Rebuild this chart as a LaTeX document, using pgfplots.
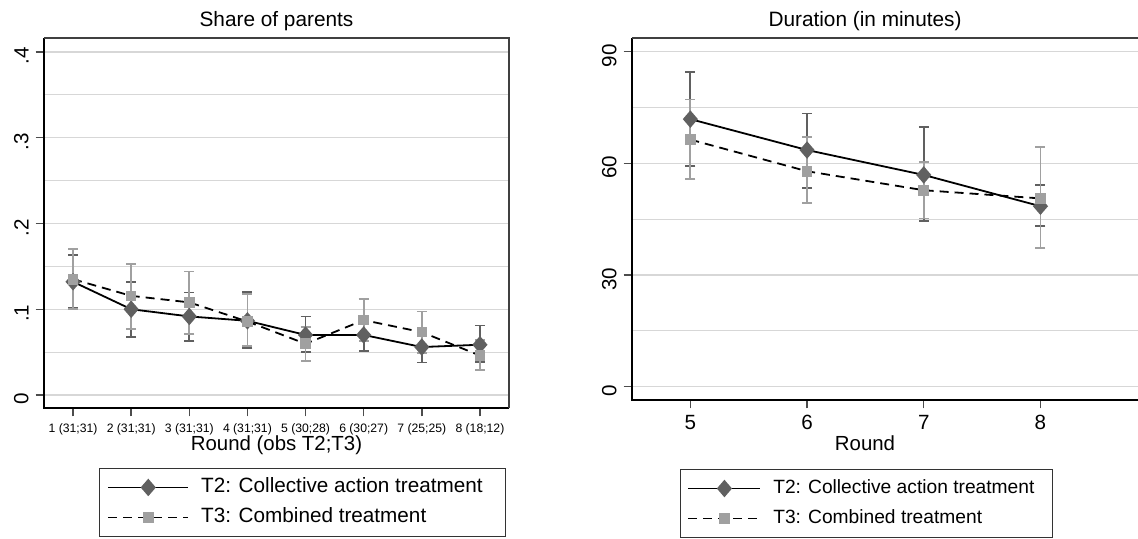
\documentclass[border=0pt]{standalone}
\usepackage{fontspec}
\setmainfont{Liberation Sans}
\usepackage{pgfplots}
\usepackage{pgfplotstable}
\pgfplotsset{compat=1.18}

\definecolor{dk}{RGB}{96,96,96}
\definecolor{lt}{RGB}{160,160,160}
\definecolor{grd}{RGB}{215,215,215}

% share of parents: mean and CI half-widths (plus / minus)
\pgfplotstableread{
x y ep em
1 0.132 0.031 0.031
2 0.100 0.032 0.0325
3 0.0916 0.028 0.029
4 0.0865 0.0335 0.0315
5 0.070 0.0216 0.020
6 0.070 0.020 0.019
7 0.0559 0.017 0.018
8 0.0586 0.0224 0.0206
}\shareT
\pgfplotstableread{
x y ep em
1 0.135 0.035 0.035
2 0.1156 0.037 0.039
3 0.108 0.036 0.037
4 0.0857 0.032 0.029
5 0.0597 0.020 0.020
6 0.0873 0.025 0.024
7 0.0733 0.024 0.024
8 0.0460 0.0185 0.0173
}\shareC
% duration in minutes
\pgfplotstableread{
x y ep em
5 71.9 12.6 12.6
6 63.6 9.8 10.1
7 56.9 12.8 12.4
8 48.5 5.6 5.3
}\durT
\pgfplotstableread{
x y ep em
5 66.4 10.8 10.5
6 57.9 9.2 8.5
7 52.8 7.5 7.6
8 50.6 13.9 13.4
}\durC

\pgfplotsset{
  panel/.style={
    scale only axis, clip=false,
    axis x line*=bottom, axis y line*=left,
    axis line style={draw=none},
    tick align=outside,
    major tick length=4.2pt, minor tick length=0pt,
    tick style={black!70, line width=0.7pt},
    ymajorgrids, yminorgrids,
    major grid style={grd, line width=0.6pt},
    minor grid style={grd, line width=0.6pt},
    /pgf/number format/assume math mode=true,
    ticklabel style={font=\fontsize{10.3}{12}\selectfont},
    yticklabel style={rotate=90, anchor=south, xshift=-2pt},
    legend cell align=left,
    legend style={draw=black!80, line width=0.5pt,
      inner ysep=4.5pt, row sep=5pt, column sep=6pt,
      nodes={inner sep=0pt, text height=7.5pt, text depth=2.5pt}},
  },
  cibar/.style={forget plot, draw=none, mark=none,
    error bars/.cd, y dir=both, y explicit,
    error bar style={#1, solid, line width=0.9pt},
    error mark options={#1, solid, line width=0.9pt, mark size=2.5pt, rotate=90}},
  tT/.style={black, line width=0.9pt, mark=diamond*, mark size=3.7pt,
    mark options={solid, fill=dk, draw=dk, xscale=1.15}},
  tC/.style={black, line width=0.9pt, dash pattern=on 4.5pt off 3pt, mark=square*, mark size=2.2pt,
    mark options={solid, fill=lt, draw=lt}},
}

\begin{document}
\begin{tikzpicture}
\useasboundingbox (0,0) rectangle (569pt,269pt);

\begin{axis}[panel,
  at={(22pt,65pt)}, anchor=south west,
  width=232.5pt, height=185pt,
  xmin=0.5, xmax=8.5, ymin=-0.0152, ymax=0.4163,
  xtick={1,2,3,4,5,6,7,8},
  xticklabels={1 (31;31),2 (31;31),3 (31;31),4 (31;31),5 (30;28),6 (30;27),7 (25;25),8 (18;12)},
  xticklabel style={font=\fontsize{6.1}{7}\selectfont},
  ytick={0,0.1,0.2,0.3,0.4}, yticklabels={0,.1,.2,.3,.4},
  minor ytick={0.05,0.15,0.25,0.35},
  legend image code/.code={\draw[mark repeat=2, mark phase=2, #1] plot coordinates {(0pt,0pt) (20pt,0pt) (40pt,0pt)};},
  legend style={at={(axis description cs:0.118,-0.162)}, anchor=north west, inner xsep=4pt,
    font=\fontsize{10.35}{12}\selectfont},
]
\addplot[cibar=dk] table[x=x, y=y, y error plus=ep, y error minus=em] \shareT;
\addplot[cibar=lt] table[x=x, y=y, y error plus=ep, y error minus=em] \shareC;
\addplot[tT] table[x=x, y=y] \shareT;
\addplot[tC] table[x=x, y=y] \shareC;
\legend{\makebox[148pt][l]{T2: Collective action treatment}, \makebox[148pt][l]{T3: Combined treatment}}
\draw[black, line width=1pt] (rel axis cs:0,1) -- (rel axis cs:0,0) -- (rel axis cs:1,0);
\draw[black!75, line width=0.6pt] (rel axis cs:0,1) -- (rel axis cs:1,1) -- (rel axis cs:1,0);
\node[anchor=base, yshift=6pt, font=\fontsize{10.4}{12}\selectfont] at (rel axis cs:0.5,1) {Share of parents};
\node[anchor=base, yshift=-21pt, font=\fontsize{10.2}{12}\selectfont] at (rel axis cs:0.5,0) {Round (obs T2;T3)};
\end{axis}

\begin{axis}[panel,
  at={(316pt,69pt)}, anchor=south west,
  width=253pt, height=181pt,
  xmin=4.5, xmax=8.836, ymin=-3.57, ymax=93.7,
  xtick={5,6,7,8},
  ytick={0,30,60,90}, minor ytick={15,45,75},
  legend image code/.code={\draw[mark repeat=2, mark phase=2, #1] plot coordinates {(0pt,0pt) (18pt,0pt) (36pt,0pt)};},
  legend style={at={(axis description cs:0.0949,-0.1906)}, anchor=north west, inner xsep=3.5pt,
    font=\fontsize{9.6}{11}\selectfont},
]
\addplot[cibar=dk] table[x=x, y=y, y error plus=ep, y error minus=em] \durT;
\addplot[cibar=lt] table[x=x, y=y, y error plus=ep, y error minus=em] \durC;
\addplot[tT] table[x=x, y=y] \durT;
\addplot[tC] table[x=x, y=y] \durC;
\legend{\makebox[136pt][l]{T2: Collective action treatment}, \makebox[136pt][l]{T3: Combined treatment}}
\draw[black, line width=1pt] (rel axis cs:0,1) -- (rel axis cs:0,0) -- (rel axis cs:1,0);
\draw[black!75, line width=0.6pt] (rel axis cs:0,1) -- (rel axis cs:1,1);
\node[anchor=base, yshift=6pt, font=\fontsize{10.4}{12}\selectfont] at (rel axis cs:0.4605,1) {Duration (in minutes)};
\node[anchor=base, yshift=-25.3pt, font=\fontsize{10.2}{12}\selectfont] at (rel axis cs:0.4605,0) {Round};
\end{axis}
\end{tikzpicture}
\end{document}
